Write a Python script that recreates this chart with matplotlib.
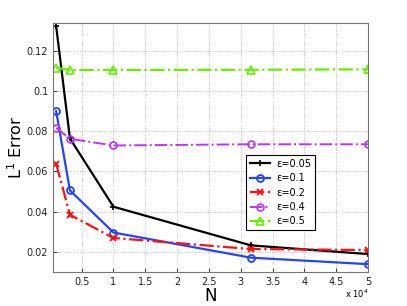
import matplotlib
matplotlib.use("Agg")
import matplotlib.pyplot as plt
from matplotlib.ticker import FuncFormatter

N = [1000, 3162, 10000, 31623, 50000]
err_005 = [0.132, 0.0764, 0.0425, 0.0233, 0.0190]
err_01 = [0.0899, 0.0506, 0.0297, 0.0172, 0.0140]
err_02 = [0.0638, 0.0385, 0.0270, 0.0215, 0.0210]
err_04 = [0.0817, 0.0762, 0.0729, 0.0735, 0.0735]
err_05 = [0.1116, 0.1103, 0.1104, 0.1105, 0.1107]
labels = ["ε=0.05", "ε=0.1", "ε=0.2", "ε=0.4", "ε=0.5"]
xticks = [5000, 10000, 15000, 20000, 25000, 30000, 35000, 40000, 45000, 50000]
yticks = [0.02, 0.04, 0.06, 0.08, 0.1, 0.12]

plt.rcParams['font.family'] = ['DejaVu Sans']
fig = plt.figure(figsize=(4.07, 3.06), dpi=100)
ax = fig.add_axes([53/407, 1 - 272/306, (368-53)/407, (272-23)/306])

ax.plot(N, err_005, color='black', lw=1.6, marker='+', ms=5, mew=1.2, label=labels[0])
ax.plot(N, err_01, color='#2244ff', lw=1.6, marker='o', ms=5, mfc='none', mew=1.3, label=labels[1])
ax.plot(N, err_02, color='#ff1111', lw=1.6, ls='-.', marker='x', ms=4, mew=1.4, label=labels[2])
ax.plot(N, err_04, color='#bb33ff', lw=1.4, ls='-.', marker='o', ms=5, mfc='none', mew=1.2, label=labels[3])
ax.plot(N, err_05, color='#66ee00', lw=1.6, ls='-.', marker='^', ms=6, mfc='none', mew=1.2, label=labels[4])

ax.set_xlim(500, 50000)
ax.set_ylim(0.0101, 0.1337)
ax.set_xticks(xticks)
ax.xaxis.set_major_formatter(FuncFormatter(lambda v, p: "%g" % (v / 1e4)))
ax.set_yticks(yticks)
ax.yaxis.set_major_formatter(FuncFormatter(lambda v, p: "%g" % v))
ax.tick_params(direction='in', labelsize=7, length=3, colors='#222222', width=0.6)
ax.grid(True, ls=':', color='#b0b0b0', lw=0.6)
for s in ax.spines.values():
    s.set_color('#777777')
    s.set_linewidth(0.8)

ax.set_xlabel("N", fontsize=12, labelpad=0)
ax.set_ylabel("L$^1$ Error", fontsize=11.5, labelpad=1)
fig.text(0.905, 0.018, "x 10$^4$", fontsize=6, ha='right', va='bottom')

leg = ax.legend(loc='upper left', bbox_to_anchor=((246-53)/315, 1 - (155-23)/249), fontsize=7,
                fancybox=False, edgecolor='black', framealpha=1, handlelength=2.1,
                borderpad=0.4, labelspacing=0.45, handletextpad=0.6, borderaxespad=0)
leg.get_frame().set_linewidth(0.8)

fig.savefig("out.png", dpi=100)
